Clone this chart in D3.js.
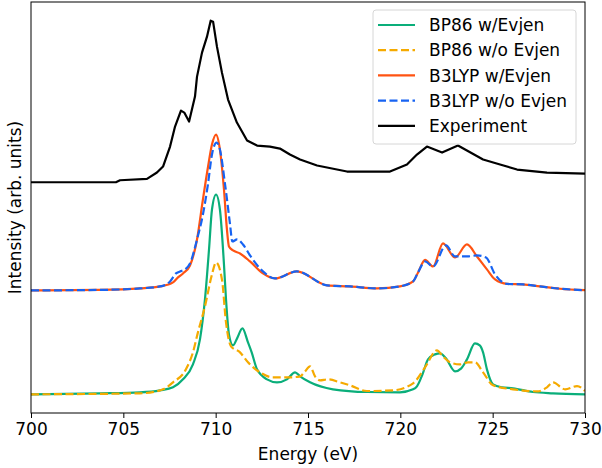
<!DOCTYPE html>
<html>
  <head>
    <meta charset="utf-8" />
    <style>
      body { margin: 0; background: #fff; }
      text { font-family: "DejaVu Sans", sans-serif; }
    </style>
  </head>
  <body>

<svg id="graph"></svg>

<script src="https://d3js.org/d3.v7.min.js"></script>
<script>
// size of the page / figure
const WIDTH = 602
const HEIGHT = 468
// plot box
const LEFT = 31
const RIGHT = 585
const TOP = 2
const BOTTOM = 413

// x ticks
const X_TICKS = [700, 705, 710, 715, 720, 725, 730]

// series: [energy (eV), intensity (arb.)]
const bp86Evjen = [
  [700, 0.0], [703.74, 0.01], [705.9, 0.02], [706.99, 0.04], [707.69, 0.07],
  [708.23, 0.15], [708.77, 0.3], [709.15, 0.55], [709.42, 0.95], [709.64, 1.45],
  [709.8, 1.85], [710.02, 2.0], [710.23, 1.85], [710.45, 1.3], [710.56, 0.95],
  [710.72, 0.6], [710.94, 0.49], [711.16, 0.56], [711.45, 0.66], [711.75, 0.52],
  [711.95, 0.42], [712.24, 0.25], [712.78, 0.15], [713.32, 0.12], [713.86, 0.15],
  [714.3, 0.22], [714.57, 0.18], [715.11, 0.12], [716.35, 0.05], [718.19, 0.023],
  [719.98, 0.02], [720.69, 0.05], [720.9, 0.08], [721.2, 0.2], [721.5, 0.35],
  [721.88, 0.4], [722.15, 0.41], [722.47, 0.36], [722.96, 0.23], [723.3, 0.26],
  [723.61, 0.35], [724.04, 0.51], [724.3, 0.49], [724.48, 0.42], [724.69, 0.25],
  [725.02, 0.1], [725.5, 0.07], [726.1, 0.06], [727.18, 0.023], [728.27, 0.01],
  [730, 0.0]
]
const bp86NoEvjen = [
  [700, 0.0], [705.9, 0.01], [706.99, 0.04], [707.15, 0.05], [707.69, 0.12],
  [708.39, 0.25], [708.77, 0.42], [709.04, 0.62], [709.42, 0.88], [709.8, 1.2],
  [710.02, 1.32], [710.34, 1.15], [710.56, 0.72], [710.83, 0.48], [711.32, 0.42],
  [711.75, 0.32], [712.4, 0.22], [713.1, 0.17], [714.03, 0.17], [714.57, 0.18],
  [714.8, 0.22], [715.11, 0.28], [715.38, 0.18], [715.65, 0.14], [716.08, 0.15],
  [716.73, 0.12], [717.27, 0.09], [718.19, 0.033], [719.6, 0.04], [720.69, 0.11],
  [721.34, 0.27], [721.98, 0.44], [722.31, 0.38], [722.69, 0.32], [723.23, 0.3],
  [723.66, 0.32], [724.04, 0.32], [724.48, 0.22], [725.02, 0.09], [726.1, 0.05],
  [727.45, 0.03], [727.94, 0.07], [728.27, 0.12], [728.92, 0.05], [729.57, 0.083],
  [730, 0.033]
]
const b3lypEvjen = [
  [700, 1.04], [703.74, 1.045], [705.9, 1.06], [706.99, 1.08], [707.69, 1.12],
  [707.96, 1.17], [708.23, 1.21], [708.61, 1.29], [708.99, 1.55], [709.31, 1.95],
  [709.58, 2.27], [709.8, 2.5], [710.02, 2.6], [710.23, 2.45], [710.45, 2.05],
  [710.61, 1.65], [710.72, 1.48], [710.94, 1.44], [711.32, 1.41], [711.86, 1.33],
  [712.56, 1.21], [713.21, 1.16], [714.4, 1.23], [716.03, 1.09], [717.27, 1.08],
  [718.74, 1.06], [719.98, 1.08], [720.69, 1.13], [720.96, 1.22], [721.34, 1.345],
  [721.77, 1.28], [722.31, 1.51], [722.96, 1.37], [723.61, 1.5], [724.15, 1.38],
  [724.69, 1.25], [725.13, 1.15], [725.78, 1.105], [726.64, 1.1], [727.56, 1.08],
  [728.65, 1.057], [730, 1.042]
]
const b3lypNoEvjen = [
  [700, 1.04], [703.74, 1.045], [705.9, 1.06], [706.99, 1.08], [707.53, 1.13],
  [707.85, 1.21], [708.07, 1.23], [708.34, 1.25], [708.61, 1.31], [708.99, 1.55],
  [709.31, 1.8], [709.58, 2.1], [709.8, 2.4], [710.05, 2.52], [710.23, 2.45],
  [710.51, 2.1], [710.78, 1.7], [710.9, 1.53], [711.16, 1.55], [711.48, 1.5],
  [711.86, 1.39], [712.56, 1.23], [713.21, 1.16], [714.4, 1.23], [716.03, 1.09],
  [717.27, 1.08], [718.74, 1.06], [719.98, 1.08], [720.69, 1.13], [720.96, 1.22],
  [721.34, 1.33], [721.77, 1.28], [722.47, 1.49], [722.96, 1.38], [723.61, 1.38],
  [724.15, 1.39], [724.64, 1.37], [725.13, 1.2], [725.78, 1.105], [726.64, 1.1],
  [727.56, 1.08], [728.65, 1.057], [730, 1.042]
]
const experiment = [
  [700, 2.123], [704.6, 2.123], [704.82, 2.143], [706.28, 2.157], [706.82, 2.22],
  [707.15, 2.28], [707.53, 2.48], [707.8, 2.68], [708.12, 2.84], [708.3, 2.82],
  [708.56, 2.73], [708.88, 2.98], [708.99, 3.18], [709.26, 3.42], [709.53, 3.58],
  [709.73, 3.74], [709.86, 3.73], [710.07, 3.48], [710.34, 3.22], [710.67, 2.95],
  [711.15, 2.72], [711.7, 2.54], [712.24, 2.49], [712.94, 2.48], [713.48, 2.46],
  [714.02, 2.4], [714.57, 2.35], [715.49, 2.29], [717.11, 2.23], [719.44, 2.23],
  [720.36, 2.3], [720.9, 2.4], [721.44, 2.48], [722.26, 2.42], [723.12, 2.49],
  [724.48, 2.35], [725.4, 2.3], [726.32, 2.25], [727.94, 2.22], [730, 2.21]
]

const SERIES = [
  { name: 'BP86 w/Evjen', data: bp86Evjen, color: '#0aae7a', dash: null, curve: d3.curveMonotoneX },
  { name: 'BP86 w/o Evjen', data: bp86NoEvjen, color: '#f5aa00', dash: '8,3.5', curve: d3.curveMonotoneX },
  { name: 'B3LYP w/Evjen', data: b3lypEvjen, color: '#ff5312', dash: null, curve: d3.curveMonotoneX },
  { name: 'B3LYP w/o Evjen', data: b3lypNoEvjen, color: '#1763f2', dash: '8,3.5', curve: d3.curveMonotoneX },
  { name: 'Experiment', data: experiment, color: '#000000', dash: null, curve: d3.curveLinear },
]

const svg = d3.select('#graph')
  .attr('width', WIDTH)
  .attr('height', HEIGHT)

const xScale = d3.scaleLinear()
  .domain([700, 730])
  .range([LEFT, RIGHT])

// y domain like matplotlib: data extent with 5% margin
const allY = SERIES.flatMap(s => s.data.map(d => d[1]))
const [yMin, yMax] = d3.extent(allY)
const pad = (yMax - yMin) * 0.05
const yScale = d3.scaleLinear()
  .domain([yMin - pad, yMax + pad])
  .range([BOTTOM, TOP])

const clip = svg.append('clipPath').attr('id', 'clip')
  .append('rect')
  .attr('x', LEFT).attr('y', TOP)
  .attr('width', RIGHT - LEFT).attr('height', BOTTOM - TOP)

// curves
const lines = svg.append('g').attr('clip-path', 'url(#clip)')
SERIES.forEach(s => {
  const line = d3.line()
    .x(d => xScale(d[0]))
    .y(d => yScale(d[1]))
    .curve(s.curve)
  lines.append('path')
    .datum(s.data)
    .attr('d', line)
    .attr('fill', 'none')
    .attr('stroke', s.color)
    .attr('stroke-width', 2.2)
    .attr('stroke-dasharray', s.dash)
    .attr('stroke-linejoin', 'round')
})

// frame
svg.append('rect')
  .attr('x', LEFT).attr('y', TOP)
  .attr('width', RIGHT - LEFT).attr('height', BOTTOM - TOP)
  .attr('fill', 'none')
  .attr('stroke', '#000')
  .attr('stroke-width', 1)

// x axis
const xAxis = d3.axisBottom(xScale)
  .tickValues(X_TICKS)
  .tickSize(5)
  .tickPadding(5)
  .tickFormat(d3.format('d'))
const gx = svg.append('g')
  .attr('transform', `translate(0, ${BOTTOM})`)
  .call(xAxis)
gx.select('.domain').remove()
gx.selectAll('text')
  .attr('font-family', '"DejaVu Sans", sans-serif')
  .attr('font-size', 17)
  .attr('fill', '#000')

// axis labels
svg.append('text')
  .attr('x', (LEFT + RIGHT) / 2)
  .attr('y', 460)
  .attr('text-anchor', 'middle')
  .attr('font-size', 17)
  .text('Energy (eV)')

svg.append('text')
  .attr('transform', `translate(21, ${(TOP + BOTTOM) / 2}) rotate(-90)`)
  .attr('text-anchor', 'middle')
  .attr('font-size', 17)
  .text('Intensity (arb. units)')

// legend
const legend = svg.append('g')
legend.append('rect')
  .attr('x', 373).attr('y', 10)
  .attr('width', 203).attr('height', 134)
  .attr('rx', 3)
  .attr('fill', 'rgba(255,255,255,0.8)')
  .attr('stroke', '#d6d6d6')
SERIES.forEach((s, i) => {
  const y = 25 + i * 25.2
  legend.append('line')
    .attr('x1', 378).attr('x2', 415)
    .attr('y1', y).attr('y2', y)
    .attr('stroke', s.color)
    .attr('stroke-width', 2.2)
    .attr('stroke-dasharray', s.dash)
  legend.append('text')
    .attr('x', 429)
    .attr('y', y)
    .attr('dy', '0.36em')
    .attr('font-size', 17)
    .text(s.name)
})

</script>
  </body>
</html>
